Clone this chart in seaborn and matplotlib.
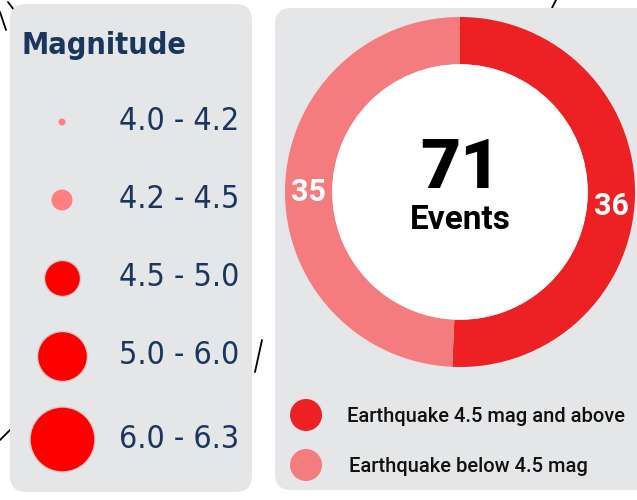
import matplotlib
matplotlib.use("Agg")
import matplotlib.pyplot as plt
import seaborn as sns
import pandas as pd
from matplotlib.patches import FancyBboxPatch, Circle

# data
mag_labels = ["4.0 - 4.2", "4.2 - 4.5", "4.5 - 5.0", "5.0 - 6.0", "6.0 - 6.3"]
mag_radius_px = [3.5, 10.5, 18, 25, 32.5]
mag_colors = ["#ff7f7f", "#ff7f7f", "#ff0000", "#ff0000", "#ff0000"]
donut_labels = ["Earthquake 4.5 mag and above", "Earthquake below 4.5 mag"]
donut_values = [36, 35]
donut_colors = ["#ed2024", "#f47b7e"]
total_label = "Events"

sns.set_theme(style="white")
plt.rcParams["font.family"] = ["Roboto", "DejaVu Sans"]

W, H = 637, 500
fig = plt.figure(figsize=(6.37, 5.0), dpi=100)
fig.patch.set_facecolor("white")
ax = fig.add_axes([0, 0, 1, 1])
ax.set_xlim(0, W)
ax.set_ylim(H, 0)
ax.axis("off")

panel = "#e5e6e8"
navy = "#1b365d"
ax.add_patch(FancyBboxPatch((10, 4), 242, 488, boxstyle="round,pad=0,rounding_size=16",
                            fc=panel, ec="none", zorder=1))
ax.add_patch(FancyBboxPatch((275, 8), 380, 482, boxstyle="round,pad=0,rounding_size=16",
                            fc=panel, ec="none", zorder=1))

# background map fragments
for seg in [((0, 12), (6, 30)), ((8, 2), (14, 10)), ((255, 372), (262, 340)),
            ((0, 440), (10, 430)), ((552, 8), (556, 0))]:
    ax.plot([seg[0][0], seg[1][0]], [seg[0][1], seg[1][1]], color="black", lw=1.3, zorder=0)

# magnitude legend
cond = dict(family="DejaVu Sans", fontstretch="condensed")
ax.text(22, 45, "Magnitude", fontsize=22, fontweight="bold", color=navy,
        va="center", ha="left", zorder=3, **cond)
ys = [122, 200, 278, 356, 439]
df = pd.DataFrame({"x": [62] * 5, "y": ys, "label": mag_labels,
                   "s": [(2 * r * 0.72) ** 2 for r in mag_radius_px]})
for i, row in df.iterrows():
    ax.scatter(row["x"], row["y"], s=row["s"], color=mag_colors[i],
               edgecolor="#cccccc" if i >= 2 else "none", linewidth=1, zorder=3)
    ax.text(119, row["y"], row["label"], fontsize=23, color=navy,
            va="center", ha="left", zorder=3, **cond)

# donut
cx, cy, r = 460, 192, 175
dax = fig.add_axes([(cx - r) / W, (H - cy - r) / H, 2 * r / W, 2 * r / H])
dax.pie(donut_values, colors=donut_colors, startangle=90, counterclock=False,
        radius=1, wedgeprops=dict(width=0.27, edgecolor="none"))
dax.add_patch(Circle((0, 0), 0.73, fc="white", ec="none", zorder=3))
dax.set_xlim(-1, 1)
dax.set_ylim(-1, 1)
dax.set_aspect("equal")
dax.axis("off")
dax.text(0, 0.13, str(sum(donut_values)), fontsize=50, fontweight="heavy",
         ha="center", va="center", color="black", zorder=4)
dax.text(0, -0.16, total_label, fontsize=24, fontweight="bold",
         ha="center", va="center", color="black", zorder=4)
dax.text(0.865, -0.08, str(donut_values[0]), fontsize=22, fontweight="bold",
         ha="center", va="center", color="white", zorder=4)
dax.text(-0.865, 0.0, str(donut_values[1]), fontsize=22, fontweight="bold",
         ha="center", va="center", color="white", zorder=4)

# donut legend
for i, (lab, col) in enumerate(zip(donut_labels, donut_colors)):
    yy = 415 + i * 50
    ax.scatter(306, yy, s=(2 * 16 * 0.72) ** 2, color=col, edgecolor="none", zorder=3)
    ax.text(347 + i * 2, yy + 1, lab, fontsize=14.5, fontweight="medium", color="#111111",
            va="center", ha="left", zorder=3)

fig.savefig("out.png", dpi=100)
